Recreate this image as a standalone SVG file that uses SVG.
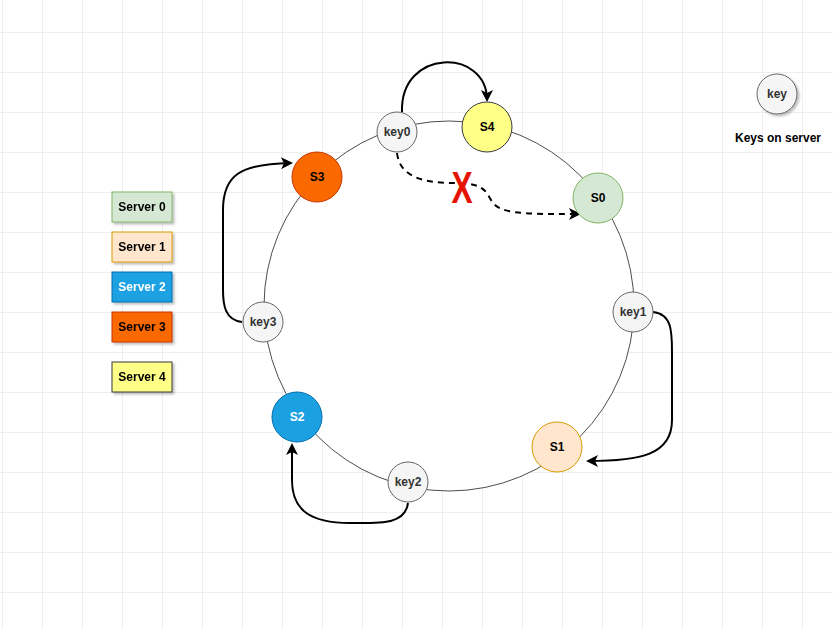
<svg xmlns="http://www.w3.org/2000/svg" width="833" height="630" viewBox="0 0 833 630">
<defs>
<pattern id="grid" x="2" y="32" width="40" height="40" patternUnits="userSpaceOnUse">
<path d="M0 0H40M0 0V40" fill="none" stroke="#dedede" stroke-width="1"/>
</pattern>
<marker id="ah" viewBox="0 0 12 12" refX="10" refY="6" markerWidth="12" markerHeight="12" orient="auto" markerUnits="userSpaceOnUse">
<path d="M0,0 L12,6 L0,12 L3,6 Z" fill="#000"/>
</marker>
<filter id="sh" x="-20%" y="-20%" width="150%" height="150%">
<feDropShadow dx="2" dy="2" stdDeviation="1.2" flood-color="#000" flood-opacity="0.25"/>
</filter>
</defs>
<style>
text{font-family:"Liberation Sans",Arial,sans-serif;font-weight:bold;font-size:12px;text-anchor:middle;dominant-baseline:central}
.key{fill:#f5f5f5;stroke:#666666;stroke-width:1}
.kt{fill:#333333}
.conn{fill:none;stroke:#000;stroke-width:2}
.leg{filter:url(#sh)}
</style>
<rect width="833" height="630" fill="#ffffff"/>
<rect width="833" height="630" fill="url(#grid)"/>
<g id="ring"><circle cx="449" cy="306" r="185" fill="#ffffff" stroke="#4d4d4d" stroke-width="1"/></g>
<g id="connectors">
<path class="conn" d="M402,112 C400,48 487,48 487,100" marker-end="url(#ah)"/>
<path class="conn" d="M653,312 C672,314 672,332 672,352 L672,420 C672,455 640,461 588,461" marker-end="url(#ah)"/>
<path class="conn" d="M408,503 C405,525 380,523 350,523 C310,523 292,510 292,480 L292,445" marker-end="url(#ah)"/>
<path class="conn" d="M242,322 C225,320 223,305 223,290 L223,210 C223,175 240,164 291,163" marker-end="url(#ah)"/>
<path class="conn" stroke-dasharray="6,5" d="M397,153 C400,180 430,183 455,183 C490,183 485,195 495,205 C505,215 540,214 579,214" marker-end="url(#ah)"/>
</g>
<g id="redx"><text x="0" y="0" transform="translate(462,188) scale(0.72,1)" style="font-size:44px;fill:#e51400">X</text></g>
<g id="key0"><circle class="key" cx="397" cy="132" r="20"/><text class="kt" x="397" y="132">key0</text></g>
<g id="S4"><circle cx="487" cy="127" r="25" fill="#ffff88" stroke="#36393d"/><text x="487" y="127">S4</text></g>
<g id="S0"><circle cx="598" cy="198" r="25" fill="#d5e8d4" stroke="#82b366"/><text x="598" y="198">S0</text></g>
<g id="key1"><circle class="key" cx="633" cy="312" r="20"/><text class="kt" x="633" y="312">key1</text></g>
<g id="S1"><circle cx="557" cy="447" r="25" fill="#ffe6cc" stroke="#d79b00"/><text x="557" y="447">S1</text></g>
<g id="key2"><circle class="key" cx="408" cy="482" r="20"/><text class="kt" x="408" y="482">key2</text></g>
<g id="S2"><circle cx="297" cy="417" r="25" fill="#1ba1e2" stroke="#006eaf"/><text x="297" y="417" fill="#ffffff">S2</text></g>
<g id="key3"><circle class="key" cx="263" cy="322" r="20"/><text class="kt" x="263" y="322">key3</text></g>
<g id="S3"><circle cx="317" cy="177" r="25" fill="#fa6800" stroke="#c73500"/><text x="317" y="177">S3</text></g>
<g id="legend-key"><circle class="key" cx="777" cy="94" r="20" filter="url(#sh)"/><text class="kt" x="777" y="94">key</text><text x="778" y="138" fill="#000">Keys on server</text></g>
<g id="server0" class="leg"><rect x="112" y="192" width="60" height="30" fill="#d5e8d4" stroke="#82b366"/><text x="142" y="207">Server 0</text></g>
<g id="server1" class="leg"><rect x="112" y="232" width="60" height="30" fill="#ffe6cc" stroke="#d79b00"/><text x="142" y="247">Server 1</text></g>
<g id="server2" class="leg"><rect x="112" y="272" width="60" height="30" fill="#1ba1e2" stroke="#006eaf"/><text x="142" y="287" fill="#ffffff">Server 2</text></g>
<g id="server3" class="leg"><rect x="112" y="312" width="60" height="30" fill="#fa6800" stroke="#c73500"/><text x="142" y="327">Server 3</text></g>
<g id="server4" class="leg"><rect x="112" y="362" width="60" height="30" fill="#ffff88" stroke="#36393d"/><text x="142" y="377">Server 4</text></g>
</svg>
